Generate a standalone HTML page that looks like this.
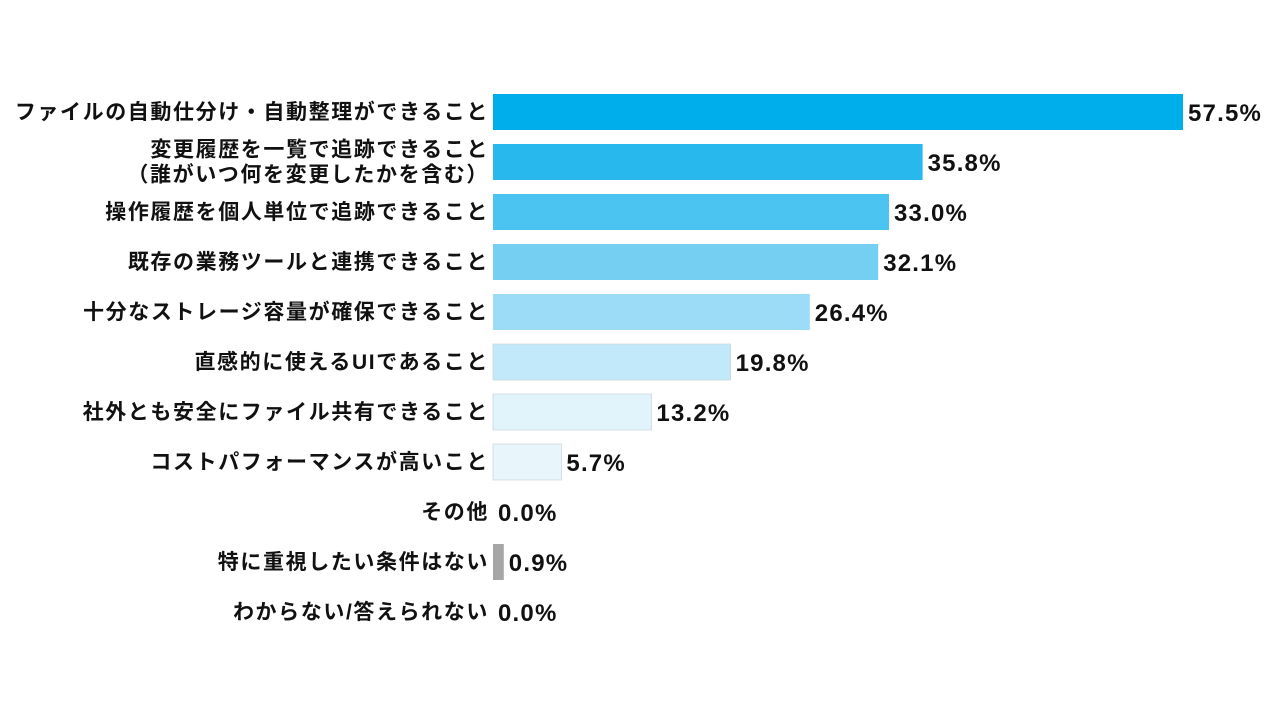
<!DOCTYPE html>
<html><head><meta charset="utf-8"><style>
body{margin:0;width:1280px;height:720px;background:#fff;overflow:hidden;font-family:"Liberation Sans","Noto Sans CJK JP",sans-serif}
svg text{font-family:"Liberation Sans","Noto Sans CJK JP",sans-serif;font-weight:bold;fill:#111}
</style></head><body>
<svg id="chart" width="1280" height="720"></svg>
<script>
const categories=[["ファイルの自動仕分け・自動整理ができること"],["変更履歴を一覧で追跡できること","（誰がいつ何を変更したかを含む）"],["操作履歴を個人単位で追跡できること"],["既存の業務ツールと連携できること"],["十分なストレージ容量が確保できること"],["直感的に使えるUIであること"],["社外とも安全にファイル共有できること"],["コストパフォーマンスが高いこと"],["その他"],["特に重視したい条件はない"],["わからない/答えられない"]];
const values=[57.5,35.8,33.0,32.1,26.4,19.8,13.2,5.7,0.0,0.9,0.0];
const colors=["#00aeec","#29b8ee","#4cc4f1","#74cff3","#9cdcf6","#c2e9f9","#e2f4fb","#e8f5fb","#e8f5fb","#a6a6a6","#a6a6a6"];
const svg=document.getElementById('chart');
const NS="http://www.w3.org/2000/svg";
const x0=493,scale=12,y0=112,pitch=50,bh=36;
const xs=v=>v*scale, ys=i=>y0+i*pitch;
values.forEach((v,i)=>{
  const cy=ys(i);
  const g=document.createElementNS(NS,'g');
  
  
  if(v>0){
    const r=document.createElementNS(NS,'rect');
    
    
    r.setAttribute('x',x0);r.setAttribute('y',cy-bh/2);
    r.setAttribute('width',xs(v));r.setAttribute('height',bh);
    r.setAttribute('fill',colors[i]);
    if(i>=5&&i<9){r.setAttribute('stroke','#c8d4da');r.setAttribute('stroke-width','0.7');}
    g.appendChild(r);
  }
  const lines=categories[i];
  lines.forEach((s,k)=>{
    const t=document.createElementNS(NS,'text');
    
    
    t.setAttribute('x',489);
    t.setAttribute('y',cy+7+(k-(lines.length-1)/2)*25);
    t.setAttribute('text-anchor','end');t.setAttribute('font-size','21');
    t.setAttribute('letter-spacing','1.6');
    t.textContent=s;g.appendChild(t);
  });
  const vt=document.createElementNS(NS,'text');
  
  
  vt.setAttribute('x',x0+xs(v)+5);vt.setAttribute('y',cy+9);
  vt.setAttribute('font-size','24');
  vt.setAttribute('letter-spacing','1.2');
  vt.textContent=v.toFixed(1)+'%';g.appendChild(vt);
  svg.appendChild(g);
});
</script>
</body></html>
